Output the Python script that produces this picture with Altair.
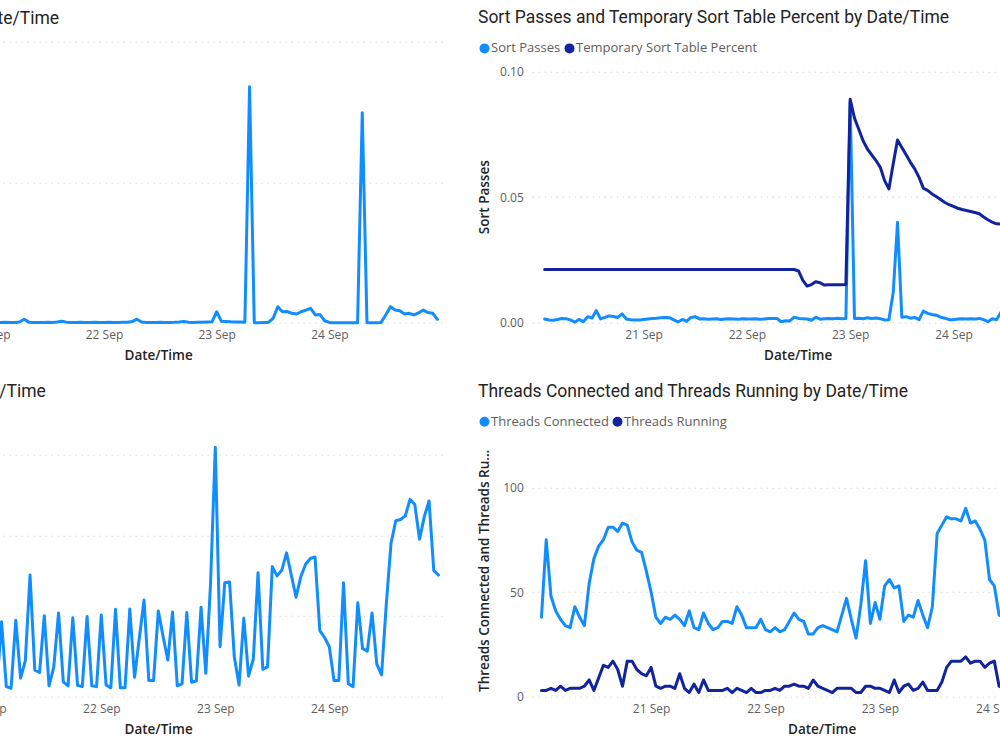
import altair as alt
import pandas as pd

# Hourly samples; index 0 is 20 Sep 01:00
START = pd.Timestamp("2023-09-20 01:00")

LIGHT = "#118DFF"
DARK = "#12239E"

# ---- Slow queries (samples from hour 24) ----
slow_first = 24
slow_queries = [
    0.02, 0.02, 0.03, 0.02, 0.02, 0.05,
    0.25, 0.04, 0.02, 0.02, 0.02, 0.03, 0.02, 0.05, 0.1, 0.04,
    0.02, 0.02, 0.03, 0.02, 0.02, 0.03, 0.02, 0.02, 0.03, 0.02,
    0.02, 0.03, 0.04, 0.08, 0.25, 0.05, 0.02, 0.02, 0.02, 0.03,
    0.02, 0.02, 0.03, 0.05, 0.08, 0.04, 0.02, 0.03, 0.04, 0.05,
    0.06, 0.78, 0.1, 0.08, 0.06, 0.05, 0.05, 0.03, 16.8, 0.0,
    0.0, 0.02, 0.02, 0.3, 1.14, 0.78, 0.8, 0.67, 0.62, 0.78,
    0.9, 1.02, 0.55, 0.58, 0.14, 0.02, 0.0, 0.0, 0.0, 0.0,
    0.0, 0.0, 14.95, 0.0, 0.0, 0.0, 0.02, 0.55, 1.14, 0.9,
    0.85, 0.62, 0.67, 0.55, 0.7, 0.9, 0.72, 0.67, 0.24,
]

# ---- Active connections (samples from hour 24) ----
active_first = 24
active_connections = [
    2.6, 2.3, 18.6, 2.5, 2.1, 19.0,
    4.6, 8.9, 30.2, 6.6, 6.0, 20.1, 2.7, 7.4, 20.8, 3.7,
    2.7, 19.6, 2.8, 2.5, 19.9, 2.7, 2.5, 20.3, 2.9, 2.2,
    21.7, 2.2, 2.2, 21.8, 4.8, 14.5, 24.0, 4.0, 4.0, 21.3,
    15.0, 9.1, 21.0, 2.7, 3.2, 20.9, 3.6, 3.9, 22.2, 5.8,
    28.1, 61.9, 12.4, 28.3, 28.5, 9.9, 2.9, 19.5, 5.1, 9.3,
    30.8, 6.8, 7.4, 32.3, 30.0, 31.4, 35.7, 30.2, 24.7, 29.8,
    32.9, 34.3, 34.7, 16.4, 14.7, 12.4, 4.0, 4.0, 28.3, 3.2,
    2.5, 23.3, 12.0, 11.3, 20.8, 8.1, 5.4, 23.0, 38.1, 43.7,
    44.0, 44.9, 49.0, 47.7, 39.1, 44.7, 48.6, 31.3, 30.2,
]

# ---- Sort passes / temporary sort table percent (from hour 0) ----
sort_first = 0
sort_passes = [
    0.0015, 0.0011, 0.0010, 0.0013, 0.0017, 0.0016, 0.0011, 0.0002, 0.0013, 0.0004,
    0.0024, 0.0018, 0.0048, 0.0015, 0.0021, 0.0027, 0.0025, 0.0021, 0.0035, 0.0015,
    0.0012, 0.0011, 0.0011, 0.0013, 0.0015, 0.0017, 0.0018, 0.0020, 0.0021, 0.0020,
    0.0011, 0.0003, 0.0013, 0.0005, 0.0021, 0.0024, 0.0015, 0.0016, 0.0014, 0.0015,
    0.0016, 0.0013, 0.0015, 0.0016, 0.0015, 0.0014, 0.0016, 0.0015, 0.0015, 0.0016,
    0.0014, 0.0015, 0.0017, 0.0017, 0.0017, 0.0004, 0.0008, 0.0007, 0.0022, 0.0017,
    0.0016, 0.0015, 0.0010, 0.0022, 0.0014, 0.0016, 0.0017, 0.0016, 0.0018, 0.0016,
    0.0017, 0.0880, 0.0017, 0.0018, 0.0016, 0.0020, 0.0017, 0.0019, 0.0016, 0.0011,
    0.0012, 0.0120, 0.0400, 0.0022, 0.0024, 0.0018, 0.0021, 0.0012, 0.0046, 0.0037,
    0.0033, 0.0030, 0.0022, 0.0018, 0.0012, 0.0012, 0.0015, 0.0016, 0.0015, 0.0016,
    0.0015, 0.0017, 0.0012, 0.0004, 0.0016, 0.0012, 0.0041, 0.0060,
]
temp_sort_pct = [0.0212] * 59 + [
    0.0206, 0.0169, 0.0146, 0.0152, 0.0163, 0.0159, 0.0150, 0.0151, 0.0151, 0.0151,
    0.0151, 0.0152, 0.0890, 0.0815, 0.0771, 0.0725, 0.0692, 0.0669, 0.0646, 0.0619,
    0.0566, 0.0533, 0.0633, 0.0728, 0.0698, 0.0669, 0.0639, 0.0613, 0.0579, 0.0536,
    0.0527, 0.0513, 0.0503, 0.0491, 0.0479, 0.0470, 0.0463, 0.0456, 0.0451, 0.0447,
    0.0443, 0.0439, 0.0434, 0.0421, 0.0410, 0.0401, 0.0394, 0.0393, 0.0390,
]

# ---- Threads connected / running (from hour 0) ----
threads_first = 0
threads_connected = [
    38, 75, 48, 41, 37, 34, 33, 43, 38, 34, 54, 66, 72, 75, 81, 81, 79, 83, 82, 74,
    70, 69, 60, 50, 38, 35, 38, 37, 39, 37, 34, 41, 33, 32, 40, 35, 32, 33, 36, 36,
    35, 43, 39, 33, 33, 33, 37, 32, 31, 33, 31, 32, 36, 40, 37, 36, 30, 30, 33, 34,
    33, 32, 31, 39, 47, 37, 28, 44, 65, 35, 45, 37, 53, 56, 52, 53, 36, 39, 38, 46,
    39, 33, 43, 78, 82, 86, 85, 85, 84, 90, 83, 84, 80, 75, 56, 53, 39, 38,
]
threads_running = [
    3, 3, 4, 3, 5, 3, 4, 4, 4, 5, 8, 3, 9, 15, 14, 17, 13, 5, 17, 17,
    13, 11, 10, 14, 5, 4, 5, 5, 4, 11, 4, 2, 6, 2, 8, 3, 3, 3, 3, 4,
    2, 4, 3, 2, 4, 2, 2, 3, 3, 4, 3, 5, 5, 6, 5, 5, 4, 8, 5, 4,
    3, 2, 4, 4, 4, 4, 2, 2, 5, 5, 4, 4, 3, 2, 8, 2, 5, 6, 3, 4,
    7, 3, 3, 3, 7, 14, 17, 17, 17, 19, 16, 17, 17, 14, 16, 17, 5, 4,
]

DAY_TICKS = [alt.DateTime(year=2023, month=9, date=d) for d in (21, 22, 23, 24)]


def stamps(first, n):
    return pd.date_range(START + pd.Timedelta(hours=first), periods=n, freq="h")


def dt(h):
    ts = (START + pd.Timedelta(hours=h)).round("s")
    return alt.DateTime(year=ts.year, month=ts.month, date=ts.day,
                        hours=ts.hour, minutes=ts.minute, seconds=ts.second)


def x_enc(h0, h1):
    return alt.X(
        "t:T", title="Date/Time",
        scale=alt.Scale(domain=[dt(h0), dt(h1)]),
        axis=alt.Axis(values=DAY_TICKS, format="%d %b", grid=False, labelFlush=False),
    )


def long_frame(first, names, series):
    n = len(series[0])
    rows = []
    for name, vals in zip(names, series):
        rows.append(pd.DataFrame({"t": stamps(first, n), "series": name, "v": vals}))
    return pd.concat(rows, ignore_index=True)


def series_legend(dy):
    return alt.Legend(orient="none", legendX=-54.3, legendY=dy,
                      direction="horizontal", title=None,
                      symbolType="circle", symbolSize=25, symbolStrokeWidth=5,
                      labelOffset=0, columnPadding=-4, labelLimit=400)


LINE = dict(strokeWidth=3, strokeJoin="round", strokeCap="round")

# Top left: slow queries
tl_df = pd.DataFrame({"t": stamps(slow_first, len(slow_queries)), "v": slow_queries})
tl = alt.Chart(
    tl_df,
    title=alt.TitleParams("Slow Queries by Date/Time", anchor="end", frame="group",
                          dx=-386, offset=8),
).mark_line(color=LIGHT, **LINE).encode(
    x=x_enc(-2.596, 119.64),
    y=alt.Y("v:Q", title="Slow Queries",
            scale=alt.Scale(domain=[0, 20], nice=False),
            axis=alt.Axis(values=[0, 10, 20])),
).properties(width=574, height=281)

# Top right: sort passes and temporary sort table percent
tr_names = ["Sort Passes", "Temporary Sort Table Percent"]
tr_df = long_frame(sort_first, tr_names, [sort_passes, temp_sort_pct])
tr = alt.Chart(
    tr_df,
    title=alt.TitleParams("Sort Passes and Temporary Sort Table Percent by Date/Time",
                          anchor="start", frame="group", dx=-54.3, offset=15),
).mark_line(**LINE).encode(
    x=x_enc(-2.858, 120.45),
    y=alt.Y("v:Q", title="Sort Passes",
            scale=alt.Scale(domain=[0, 0.11195], nice=False),
            axis=alt.Axis(values=[0, 0.05, 0.1], format=".2f", titleX=-41, titleY=155)),
    color=alt.Color("series:N", scale=alt.Scale(domain=tr_names, range=[LIGHT, DARK]),
                    legend=series_legend(0.2)),
).properties(width=530.7, height=281)

# Bottom left: active connections
bl_df = pd.DataFrame({"t": stamps(active_first, len(active_connections)), "v": active_connections})
bl = alt.Chart(
    bl_df,
    title=alt.TitleParams("Active Connections by Date/Time", anchor="end", frame="group",
                          dx=-399.3, offset=15),
).mark_line(color=LIGHT, **LINE).encode(
    x=x_enc(-1.463, 119.38),
    y=alt.Y("v:Q", title="Active Connections",
            scale=alt.Scale(domain=[0, 69.76], nice=False),
            axis=alt.Axis(values=[0, 20, 40, 60])),
).properties(width=574, height=281)

# Bottom right: threads connected and threads running
br_names = ["Threads Connected", "Threads Running"]
br_df = long_frame(threads_first, br_names, [threads_connected, threads_running])
br = alt.Chart(
    br_df,
    title=alt.TitleParams("Threads Connected and Threads Running by Date/Time",
                          anchor="start", frame="group", dx=-54.3, offset=15),
).mark_line(**LINE).encode(
    x=x_enc(-1.922, 119.46),
    y=alt.Y("v:Q", title="Threads Connected and Threads Running",
            scale=alt.Scale(domain=[0, 134.3], nice=False),
            axis=alt.Axis(values=[0, 50, 100], titleX=-41, titleY=154.6, titleLimit=250)),
    color=alt.Color("series:N", scale=alt.Scale(domain=br_names, range=[LIGHT, DARK]),
                    legend=series_legend(-0.4)),
).properties(width=578.6, height=281)

chart = alt.concat(
    tl, tr, bl, br, columns=2, bounds="flush",
    spacing={"row": 93, "column": 87.2},
).resolve_scale(
    color="independent", x="independent", y="independent",
).resolve_legend(
    color="independent",
).properties(
    autosize=alt.AutoSizeParams(type="none"),
    padding={"left": -128.9, "top": 41.7, "right": 1128.9, "bottom": 708.3},
).configure_view(
    stroke=None
).configure_axis(
    labelFont="Open Sans", labelFontSize=12, labelColor="#605E5C",
    titleFont="Open Sans", titleFontSize=13.5, titleFontWeight=600, titleColor="#252423",
    domain=False, ticks=False, tickSize=0,
    gridColor="#C8C6C4", gridDash=[1, 5], gridWidth=1,
).configure_axisX(
    labelPadding=7, titlePadding=8,
).configure_axisY(
    labelPadding=9, grid=True,
).configure_title(
    font="Roboto", fontSize=17.5, fontWeight="normal", color="#252423",
).configure_legend(
    labelFont="Open Sans", labelFontSize=13, labelColor="#605E5C",
)

chart.save("out.html", embed_options={"renderer": "svg", "actions": False})
